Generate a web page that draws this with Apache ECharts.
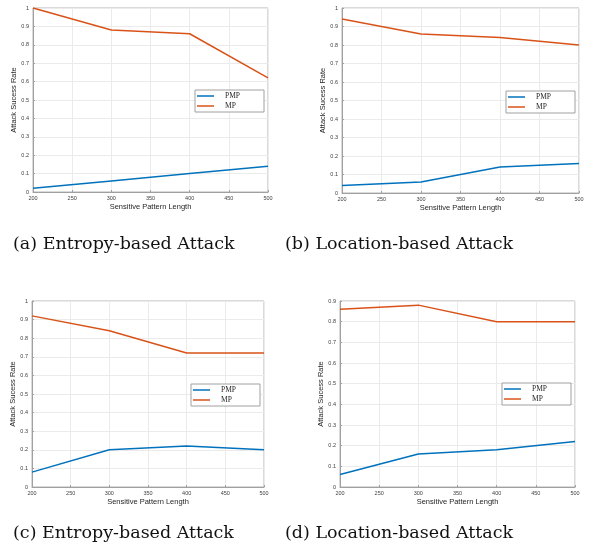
<!DOCTYPE html>
<html>
<head>
<meta charset="utf-8">
<script src="https://cdn.jsdelivr.net/npm/echarts@6/dist/echarts.min.js"></script>
<style>
html,body{margin:0;padding:0;background:#fff;}
#c{width:591px;height:550px;}
</style>
</head>
<body>
<div id="c"></div>
<script>
// ---- data ----
var lengths = [200, 300, 400, 500];
var seriesNames = ['PMP', 'MP'];
var pmpA = [0.02, 0.06, 0.10, 0.14];
var mpA  = [1.00, 0.88, 0.86, 0.62];
var pmpB = [0.04, 0.06, 0.14, 0.16];
var mpB  = [0.94, 0.86, 0.84, 0.80];
var pmpC = [0.08, 0.20, 0.22, 0.20];
var mpC  = [0.92, 0.84, 0.72, 0.72];
var pmpD = [0.06, 0.16, 0.18, 0.22];
var mpD  = [0.86, 0.88, 0.80, 0.80];
var yMaxes = [1, 1, 1, 0.9];
var captions = ['(a) Entropy-based Attack', '(b) Location-based Attack',
                '(c) Entropy-based Attack', '(d) Location-based Attack'];
var xTitle = 'Sensitive Pattern Length';
var yTitle = 'Attack Sucess Rate';

var panels = [[pmpA, mpA], [pmpB, mpB], [pmpC, mpC], [pmpD, mpD]];

// ---- layout ----
var grids = [
  {left: 33, top: 8, width: 235, height: 184},
  {left: 342, top: 8, width: 237, height: 185},
  {left: 32, top: 301, width: 232, height: 186},
  {left: 340, top: 301, width: 235, height: 186}
];
var legendPos = [
  {left: 195, top: 90},
  {left: 506, top: 91},
  {left: 191, top: 104 + 280},
  {left: 502, top: 103 + 280}
];
var captionPos = [
  {left: 13, top: 235},
  {left: 285, top: 235},
  {left: 13, top: 524},
  {left: 285, top: 524}
];

var BLUE = '#0072BD', ORANGE = '#D95319';
var option = {
  animation: false,
  backgroundColor: '#fff',
  grid: [], xAxis: [], yAxis: [], series: [], legend: [], title: []
};

function zip(xs, ys) { return xs.map(function (x, i) { return [x, ys[i]]; }); }

grids.forEach(function (g, i) {
  option.grid.push({left: g.left, top: g.top, width: g.width, height: g.height,
    show: true, borderColor: '#b4b4b4', borderWidth: 1, backgroundColor: '#fff'});
  option.xAxis.push({
    type: 'value', gridIndex: i, min: 200, max: 500, interval: 50,
    name: xTitle, nameLocation: 'middle', nameGap: 11,
    nameTextStyle: {fontFamily: 'Liberation Sans', fontSize: 7.5, color: '#262626'},
    axisLine: {show: true, lineStyle: {color: '#a0a0a0', width: 1}},
    axisTick: {show: true, inside: true, length: 2, lineStyle: {color: '#a0a0a0'}},
    axisLabel: {fontFamily: 'Liberation Sans', fontSize: 5.5, color: '#404040', margin: 3},
    splitLine: {show: true, lineStyle: {color: '#ebebeb', width: 1}}
  });
  option.yAxis.push({
    type: 'value', gridIndex: i, min: 0, max: yMaxes[i], interval: 0.1,
    name: yTitle, nameLocation: 'middle', nameGap: 10, nameRotate: 90,
    nameTextStyle: {fontFamily: 'Liberation Sans', fontSize: 7.5, color: '#262626'},
    axisLine: {show: true, lineStyle: {color: '#a0a0a0', width: 1}},
    axisTick: {show: true, inside: true, length: 2, lineStyle: {color: '#a0a0a0'}},
    axisLabel: {fontFamily: 'Liberation Sans', fontSize: 5.5, color: '#404040', margin: 4,
      formatter: function (v) { return String(Math.round(v * 10) / 10); }},
    splitLine: {show: true, lineStyle: {color: '#ebebeb', width: 1}}
  });
  var colors = [BLUE, ORANGE];
  panels[i].forEach(function (vals, k) {
    option.series.push({
      type: 'line', name: seriesNames[k], xAxisIndex: i, yAxisIndex: i,
      data: zip(lengths, vals), symbol: 'none', smooth: false,
      lineStyle: {color: colors[k], width: 1.5}, itemStyle: {color: colors[k]}
    });
  });
  option.legend.push({
    left: legendPos[i].left, top: legendPos[i].top, orient: 'vertical',
    data: seriesNames, icon: 'rect', itemWidth: 17, itemHeight: 1.5, itemGap: 2,
    padding: [2, 24, 2, 2], backgroundColor: '#fff', borderColor: '#a0a0a0', borderWidth: 1,
    borderRadius: 0, selectedMode: false,
    textStyle: {fontFamily: 'Liberation Serif', fontSize: 7.5, color: '#262626',
      width: 24, align: 'center', padding: [0, 0, 0, 6]}
  });
  option.title.push({
    text: captions[i], left: captionPos[i].left, top: captionPos[i].top, padding: 0,
    textStyle: {fontFamily: 'DejaVu Serif', fontWeight: 'normal', fontSize: 17.5, color: '#111'}
  });
});

var chart = echarts.init(document.getElementById('c'), null, {renderer: 'canvas'});
chart.setOption(option);
</script>
</body>
</html>
